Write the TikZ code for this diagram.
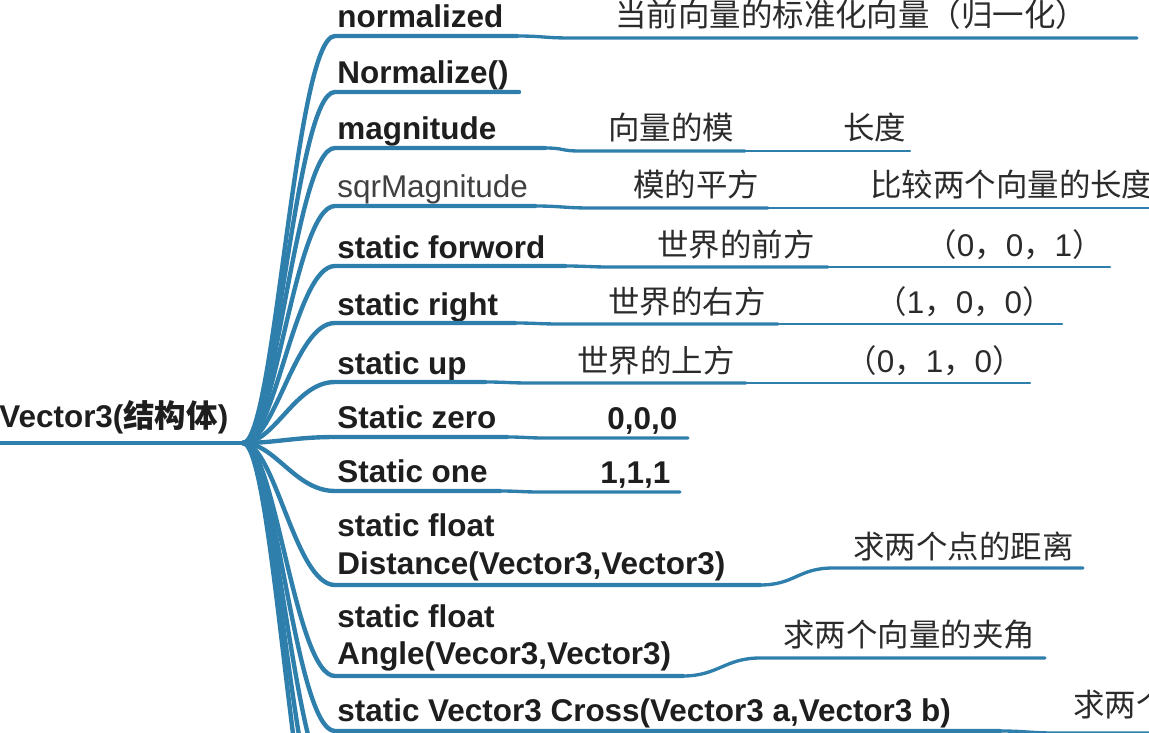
\documentclass[tikz,border=0pt]{standalone}
\usepackage{fontspec}
\setmainfont{Liberation Sans}
\newfontfamily\cjk{Noto Sans CJK SC}
\usetikzlibrary{calc}
\definecolor{branch}{HTML}{2F7FAD}
\definecolor{ink}{HTML}{1E1E1E}
\definecolor{notetext}{HTML}{2B2B2B}
\newcommand{\mapfont}{\fontsize{17.9}{21.5}\selectfont}
\newcommand{\num}[1]{{\rmfamily\mdseries #1}}

\begin{document}
\begin{tikzpicture}[x=0.02cm, y=-0.02cm, line cap=round,
    trunk/.style={draw=branch, line width=2.8pt},
    main/.style={draw=branch, line width=2.5pt},
    sub/.style={draw=branch, line width=1.9pt},
    subsub/.style={draw=branch, line width=1.4pt},
    item/.style={anchor=base west, inner sep=0pt, font=\mapfont\bfseries, text=ink},
    plain/.style={anchor=base west, inner sep=0pt, font=\mapfont, text=ink!85},
    note/.style={anchor=base west, inner sep=0pt, font=\mapfont\cjk, text=notetext},
    twoline/.style={item, anchor=south west, align=left}
]
    \useasboundingbox (0,0) rectangle (1149,733);
    \clip (0,0) rectangle (1149,733);

    % root
    \node[item] (root) at (-1,427) {Vector3({\cjk 结构体})};
    \coordinate (hub) at (243,443);
    \draw[trunk] (root.base west |- hub) -- (hub);

    % normalized
    \node[item] (normalized) at (337,28) {normalized};
    \node[note] (normalized-txt) at (615,27) {当前向量的标准化向量（归一化）};
    \draw[main] (hub) .. controls +(32,0) and +(-40,0) .. (335,36) -- (517,36) coordinate (normalized-e);
    \draw[sub] (normalized-e) .. controls +(25,0) and +(-25,0) .. (570,38) -- (1137,38);

    % Normalize()
    \node[item] (Normalize) at (337,84) {Normalize()};
    \draw[main] (hub) .. controls +(32,0) and +(-40,0) .. (335,92) -- (519,92);

    % magnitude
    \node[item] (magnitude) at (337,140) {magnitude};
    \node[note] (magnitude-txt) at (608,140) {向量的模};
    \node[note] (magnitude-len) at (843,140) {长度};
    \draw[main] (hub) .. controls +(32,0) and +(-40,0) .. (335,148) -- (545,148) coordinate (magnitude-e);
    \draw[sub] (magnitude-e) .. controls +(20,0) and +(-20,0) .. (580,151) -- (745,151) coordinate (magnitude-s);
    \draw[subsub] (magnitude-s) -- (910,151);

    % sqrMagnitude
    \node[plain] (sqrMagnitude) at (337,198) {sqrMagnitude};
    \node[note] (sqr-txt) at (633,197) {模的平方};
    \node[note] (sqr-cmp) at (870,197) {比较两个向量的长度};
    \draw[main] (hub) .. controls +(32,0) and +(-40,0) .. (335,206) -- (535,206) coordinate (sqr-e);
    \draw[sub] (sqr-e) .. controls +(25,0) and +(-25,0) .. (590,208) -- (768,208) coordinate (sqr-s);
    \draw[subsub] (sqr-s) -- (1160,208);

    % static forword
    \node[item] (forword) at (337,258) {static forword};
    \node[note] (forword-txt) at (657,256) {世界的前方};
    \node[note] (forword-val) at (925,256) {（\num{0}，\num{0}，\num{1}）};
    \draw[main] (hub) .. controls +(32,0) and +(-40,0) .. (335,266) -- (565,266) coordinate (forword-e);
    \draw[sub] (forword-e) .. controls +(20,0) and +(-20,0) .. (610,267) -- (828,267) coordinate (forword-s);
    \draw[subsub] (forword-s) -- (1110,267);

    % static right
    \node[item] (right) at (337,315) {static right};
    \node[note] (right-txt) at (608,313) {世界的右方};
    \node[note] (right-val) at (875,313) {（\num{1}，\num{0}，\num{0}）};
    \draw[main] (hub) .. controls +(32,0) and +(-40,0) .. (335,323) -- (515,323) coordinate (right-e);
    \draw[sub] (right-e) .. controls +(20,0) and +(-20,0) .. (560,324) -- (778,324) coordinate (right-s);
    \draw[subsub] (right-s) -- (1062,324);

    % static up
    \node[item] (up) at (337,374) {static up};
    \node[note] (up-txt) at (577,372) {世界的上方};
    \node[note] (up-val) at (845,372) {（\num{0}，\num{1}，\num{0}）};
    \draw[main] (hub) .. controls +(32,0) and +(-40,0) .. (335,382) -- (485,382) coordinate (up-e);
    \draw[sub] (up-e) .. controls +(20,0) and +(-20,0) .. (530,383) -- (746,383) coordinate (up-s);
    \draw[subsub] (up-s) -- (1030,383);

    % Static zero / one
    \node[item] (zero) at (337,428) {Static zero};
    \node[item] (zero-val) at (607,429) {0,0,0};
    \draw[main] (hub) .. controls +(32,0) and +(-40,0) .. (335,437) -- (507,437) coordinate (zero-e);
    \draw[sub] (zero-e) .. controls +(18,0) and +(-18,0) .. (545,438) -- (688,438);

    \node[item] (one) at (337,482) {Static one};
    \node[item] (one-val) at (600,483) {1,1,1};
    \draw[main] (hub) .. controls +(32,0) and +(-40,0) .. (335,491) -- (500,491) coordinate (one-e);
    \draw[sub] (one-e) .. controls +(18,0) and +(-18,0) .. (540,492) -- (680,492);

    % Distance
    \node[twoline] (distance) at (337,581) {static float\\Distance(Vector3,Vector3)};
    \node[note] (distance-txt) at (853,558) {求两个点的距离};
    \draw[main] (hub) .. controls +(32,0) and +(-40,0) .. (335,585) -- (760,585) coordinate (distance-e);
    \draw[sub] (distance-e) .. controls +(35,0) and +(-35,0) .. (833,568) -- (1083,568);

    % Angle
    \node[twoline] (angle) at (337,672) {static float\\Angle(Vecor3,Vector3)};
    \node[note] (angle-txt) at (783,646) {求两个向量的夹角};
    \draw[main] (hub) .. controls +(32,0) and +(-40,0) .. (335,676) -- (683,676) coordinate (angle-e);
    \draw[sub] (angle-e) .. controls +(35,0) and +(-35,0) .. (760,658) -- (1045,658);

    % Cross
    \node[item] (cross) at (337,721) {static Vector3 Cross(Vector3 a,Vector3 b)};
    \node[note] (cross-txt) at (1073,716) {求两个};
    \draw[main] (hub) .. controls +(32,0) and +(-40,0) .. (335,731) -- (1000,731) coordinate (cross-e);
    \draw[sub] (cross-e) .. controls +(25,0) and +(-25,0) .. (1055,733) -- (1160,733);

    % branches running off the bottom
    \draw[main] (hub) .. controls +(32,0) and +(-40,0) .. (335,790) coordinate (more-a);
    \draw[main] (hub) .. controls +(32,0) and +(-40,0) .. (335,850) coordinate (more-b);
    \draw[main] (hub) .. controls +(32,0) and +(-40,0) .. (335,910) coordinate (more-c);
\end{tikzpicture}
\end{document}
